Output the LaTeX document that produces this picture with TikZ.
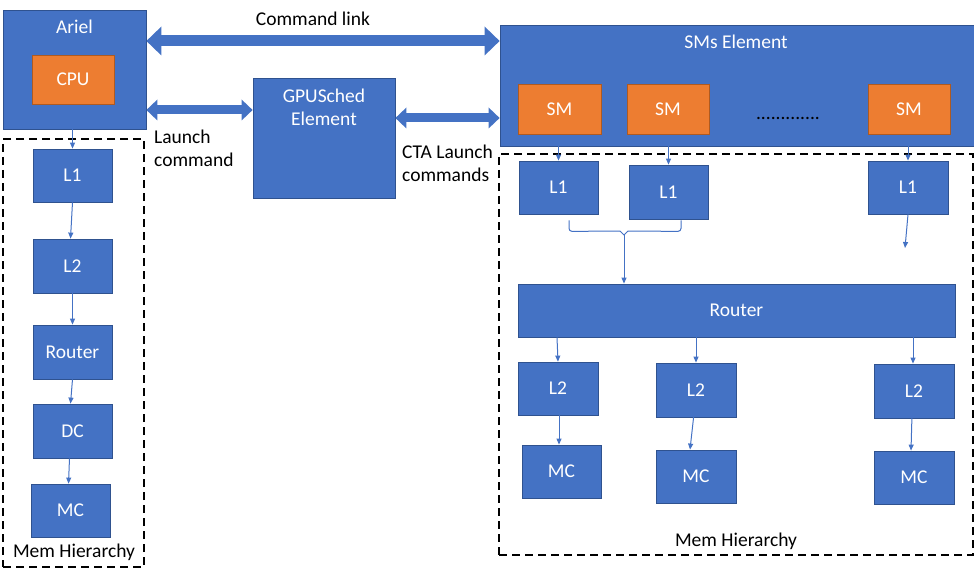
\documentclass[tikz,border=0pt]{standalone}
\usepackage{fontspec}
\setmainfont{Carlito}
\usetikzlibrary{arrows.meta,calc}
\definecolor{bl}{HTML}{4472C4}
\definecolor{bld}{HTML}{2F528F}
\definecolor{orf}{HTML}{ED7D31}
\definecolor{ord}{HTML}{AE5A21}
\newcommand\myfs{\fontsize{19.5}{23}\selectfont}
\tikzset{
  box/.style={draw=bld, line width=0.8pt, fill=bl, text=white, inner sep=0pt, font=\myfs},
  obox/.style={box, fill=orf, draw=ord},
  wt/.style={text=white, inner sep=0pt, font=\myfs, align=center},
  bt/.style={text=black, inner sep=0pt, font=\myfs},
  dbox/.style={draw=black, line width=2.2pt, dash pattern=on 8pt off 5pt, inner sep=0pt},
  conn/.style={draw=bl, line width=1pt, -{Triangle[length=6pt,width=5pt]}},
  plain/.style={draw=bl, line width=1pt},
  bigarrow/.style={draw=bl, line width=11pt, {Triangle[length=15pt,width=29pt,line width=0pt]}-{Triangle[length=15pt,width=29pt,line width=0pt]}},
  medarrow/.style={draw=bl, line width=9pt, {Triangle[length=11pt,width=21pt,line width=0pt]}-{Triangle[length=11pt,width=21pt,line width=0pt]}},
}
\begin{document}
\begin{tikzpicture}[x=1pt,y=-1pt]
\useasboundingbox (0,0) rectangle (974,575);
% dashed memory regions
\node[dbox, minimum width=141pt, minimum height=428pt] (lmem) at (73.5,353) {};
\node[dbox, minimum width=474pt, minimum height=401pt] (rmem) at (736,354.5) {};
% top elements
\node[box, minimum width=143pt, minimum height=119pt] (ariel) at (74.5,69.5) {};
\node[wt] (arieltxt) at (74.5,27) {Ariel};
\node[obox, minimum width=82pt, minimum height=49pt] (cpu) at (73,79.5) {CPU};
\node[box, minimum width=142pt, minimum height=120pt] (gpus) at (324,138) {};
\node[wt] (gpustxt) at (324,107) {GPUSched\\Element};
\node[box, minimum width=474pt, minimum height=121pt] (sms) at (737,85.5) {};
\node[wt] (smstxt) at (736,42) {SMs Element};
\node[obox, minimum width=83pt, minimum height=50pt] (sm1) at (559.5,109) {SM};
\node[obox, minimum width=82pt, minimum height=50pt] (sm2) at (668,109) {SM};
\node[obox, minimum width=82pt, minimum height=50pt] (sm3) at (909,109) {SM};
\node[text=black, inner sep=0pt, font=\myfs, anchor=base] (dots) at (788,120) {.............};
% labels
\coordinate (ycl) at (0,41);
\coordinate (ylc) at (0,110);
\coordinate (ycta) at (0,118);
\node[bt] (cltxt) at (313,19) {Command link};
\node[bt, align=left, anchor=west] (lctxt) at (154,148) {Launch\\command};
\node[bt, align=left, anchor=west] (ctatxt) at (402,163) {CTA Launch\\commands};
% big arrows
\draw[bigarrow] (ariel.east |- ycl) -- (sms.west |- ycl);
\draw[medarrow] (ariel.east |- ylc) -- (gpus.west |- ylc);
\draw[medarrow] (gpus.east |- ycta) -- (sms.west |- ycta);
% left hierarchy
\node[box, minimum width=79pt, minimum height=53pt] (ll1) at (72.5,175.5) {L1};
\node[box, minimum width=79pt, minimum height=54pt] (ll2) at (72.5,266) {L2};
\node[box, minimum width=79pt, minimum height=54pt] (lrt) at (72.5,352) {Router};
\node[box, minimum width=79pt, minimum height=54pt] (ldc) at (72.5,431) {DC};
\node[box, minimum width=79pt, minimum height=53pt] (lmc) at (70.5,510.5) {MC};
\node[bt] (lmemtxt) at (74,552) {Mem Hierarchy};
\draw[conn] (ll1.north |- ariel.south) -- (ll1.north);
\draw[conn] (ll1.south) -- ([xshift=-2pt]ll2.north);
\draw[conn] (ll2.south) -- (lrt.north);
\draw[conn] (lrt.south) -- ([xshift=-2pt]ldc.north);
\draw[conn] ([xshift=-3pt]ldc.south) -- ([xshift=-2pt]lmc.north);
% right hierarchy
\node[box, minimum width=79pt, minimum height=53pt] (l1a) at (558.5,187.5) {L1};
\node[box, minimum width=79pt, minimum height=54pt] (l1b) at (668.5,192) {L1};
\node[box, minimum width=80pt, minimum height=53pt] (l1c) at (908,187.5) {L1};
\node[box, minimum width=437pt, minimum height=53pt] (rrt) at (736.5,310.5) {Router};
\node[box, minimum width=80pt, minimum height=53pt] (l2a) at (558,388.5) {L2};
\node[box, minimum width=80pt, minimum height=54pt] (l2b) at (696,390) {L2};
\node[box, minimum width=80pt, minimum height=54pt] (l2c) at (914,391) {L2};
\node[box, minimum width=79pt, minimum height=53pt] (mca) at (561.5,471.5) {MC};
\node[box, minimum width=80pt, minimum height=53pt] (mcb) at (696,476.5) {MC};
\node[box, minimum width=80pt, minimum height=53pt] (mcc) at (914,477.5) {MC};
\node[bt] (rmemtxt) at (736,541) {Mem Hierarchy};
\draw[conn] (l1a.north |- sms.south) -- (l1a.north);
\draw[conn] (l1b.north |- sms.south) -- (l1b.north);
\draw[conn] (l1c.north |- sms.south) -- (l1c.north);
% brace joining two L1s
\coordinate (bl) at ($(l1a.south)+(10.5,6)$);
\coordinate (br) at ($(l1b.south)+(12.5,1)$);
\coordinate (bm) at (624,235);
\draw[plain, rounded corners=3pt] (bl) -- ($(bl)+(0,11)$) -- (620,231);
\draw[plain] (620,231) -- (bm) -- (628,231);
\draw[plain, rounded corners=3pt] (628,231) -- ($(br)+(0,11)$) -- (br);
\draw[conn] (bm) -- (bm |- rrt.north);
\coordinate (l1cend) at (905,248);
\draw[conn] (l1c.south) -- (l1cend);
\draw[conn] ([xshift=-1pt]l2a.north |- rrt.south) -- (l2a.north);
\draw[conn] (l2b.north |- rrt.south) -- (l2b.north);
\draw[conn] ([xshift=-1pt]l2c.north |- rrt.south) -- ([xshift=-1pt]l2c.north);
\draw[conn] ([xshift=1pt]l2a.south) -- ([xshift=1pt]l2a.south |- mca.north);
\draw[conn] ([xshift=-2pt,yshift=4pt]l2b.south) -- ([xshift=-6pt]mcb.north);
\draw[conn] ([xshift=-2pt,yshift=4pt]l2c.south) -- ([xshift=-3pt]mcc.north);
\end{tikzpicture}
\end{document}
